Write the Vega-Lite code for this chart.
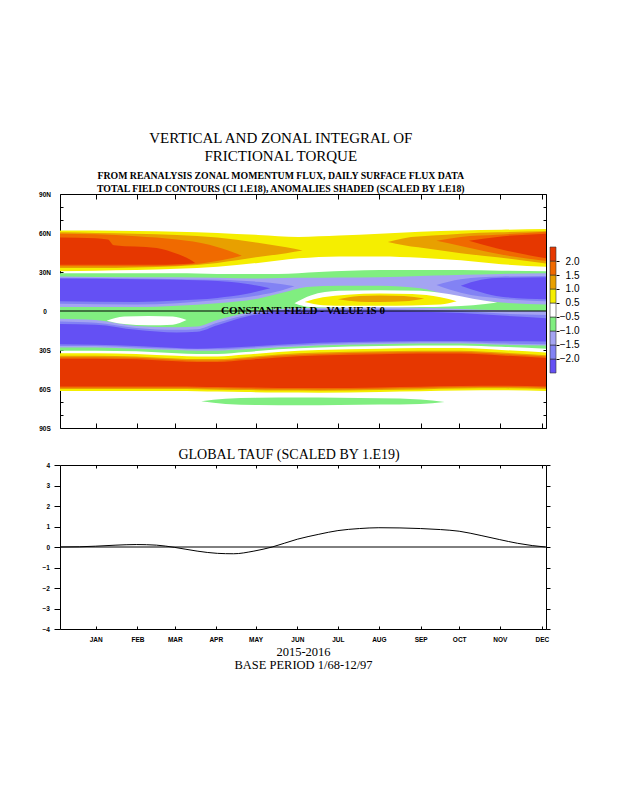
{
"$schema": "https://vega.github.io/schema/vega-lite/v6.json",
"background": "white",
"padding": {"left": 38, "top": 131, "right": 5, "bottom": 5},
"datasets": {
"field": [
{"f":"A","c":"p1","z":1,"t":0.12,"hi":62,"lo":30.5},{"f":"A","c":"p1","z":1,"t":1,"hi":62,"lo":31},{"f":"A","c":"p1","z":1,"t":2,"hi":61.5,"lo":31.5},{"f":"A","c":"p1","z":1,"t":3,"hi":61,"lo":32.5},{"f":"A","c":"p1","z":1,"t":4,"hi":60,"lo":34},{"f":"A","c":"p1","z":1,"t":5,"hi":58.5,"lo":37},{"f":"A","c":"p1","z":1,"t":6,"hi":57,"lo":40.5},{"f":"A","c":"p1","z":1,"t":7,"hi":58,"lo":42},{"f":"A","c":"p1","z":1,"t":8,"hi":59.5,"lo":42},{"f":"A","c":"p1","z":1,"t":9,"hi":61,"lo":41},{"f":"A","c":"p1","z":1,"t":10,"hi":62,"lo":39},{"f":"A","c":"p1","z":1,"t":11,"hi":62.5,"lo":36},{"f":"A","c":"p1","z":1,"t":12.1,"hi":63,"lo":34},
{"f":"B","c":"p2","z":2,"t":0.12,"hi":60.5,"lo":33},{"f":"B","c":"p2","z":2,"t":1,"hi":60,"lo":33},{"f":"B","c":"p2","z":2,"t":2,"hi":59.5,"lo":33.5},{"f":"B","c":"p2","z":2,"t":3,"hi":58.5,"lo":34.5},{"f":"B","c":"p2","z":2,"t":4,"hi":56.5,"lo":37},{"f":"B","c":"p2","z":2,"t":5,"hi":52.5,"lo":41.5},{"f":"B","c":"p2","z":2,"t":5.7,"hi":49,"lo":44.5},{"f":"B","c":"p2","z":2,"t":6.1,"hi":46.5,"lo":46.5},
{"f":"C","c":"p3","z":3,"t":0.12,"hi":59.5,"lo":34.5},{"f":"C","c":"p3","z":3,"t":1,"hi":59,"lo":34.5},{"f":"C","c":"p3","z":3,"t":2,"hi":57.5,"lo":34.5},{"f":"C","c":"p3","z":3,"t":3,"hi":55,"lo":35},{"f":"C","c":"p3","z":3,"t":3.8,"hi":51,"lo":37.5},{"f":"C","c":"p3","z":3,"t":4.4,"hi":45,"lo":41},{"f":"C","c":"p3","z":3,"t":4.6,"hi":42.5,"lo":42.5},
{"f":"D","c":"p4","z":4,"t":0.12,"hi":56.5,"lo":35.5},{"f":"D","c":"p4","z":4,"t":1,"hi":56,"lo":35.5},{"f":"D","c":"p4","z":4,"t":1.3,"hi":55,"lo":35.5},{"f":"D","c":"p4","z":4,"t":1.45,"hi":50.5,"lo":35.5},{"f":"D","c":"p4","z":4,"t":2.5,"hi":48.5,"lo":35.5},{"f":"D","c":"p4","z":4,"t":3,"hi":44,"lo":36},{"f":"D","c":"p4","z":4,"t":3.3,"hi":40,"lo":36.3},{"f":"D","c":"p4","z":4,"t":3.45,"hi":37,"lo":37},
{"f":"E","c":"p2","z":2,"t":8.2,"hi":53,"lo":53},{"f":"E","c":"p2","z":2,"t":8.6,"hi":56,"lo":50.5},{"f":"E","c":"p2","z":2,"t":9.3,"hi":58,"lo":47.5},{"f":"E","c":"p2","z":2,"t":10,"hi":59.5,"lo":44.5},{"f":"E","c":"p2","z":2,"t":10.9,"hi":60.5,"lo":41.3},{"f":"E","c":"p2","z":2,"t":12.1,"hi":61.3,"lo":36.5},
{"f":"F","c":"p3","z":3,"t":9.4,"hi":54,"lo":54},{"f":"F","c":"p3","z":3,"t":10,"hi":57,"lo":50},{"f":"F","c":"p3","z":3,"t":10.9,"hi":58.7,"lo":44},{"f":"F","c":"p3","z":3,"t":12.1,"hi":61,"lo":38.5},
{"f":"G","c":"p4","z":4,"t":10.2,"hi":54,"lo":54},{"f":"G","c":"p4","z":4,"t":10.9,"hi":57,"lo":48},{"f":"G","c":"p4","z":4,"t":12.1,"hi":59.5,"lo":40.5},
{"f":"H","c":"n1","z":1,"t":0.12,"hi":29,"lo":-30.5},{"f":"H","c":"n1","z":1,"t":1,"hi":29,"lo":-30.5},{"f":"H","c":"n1","z":1,"t":2,"hi":29,"lo":-31},{"f":"H","c":"n1","z":1,"t":3,"hi":29,"lo":-32.5},{"f":"H","c":"n1","z":1,"t":3.5,"hi":28.8,"lo":-33},{"f":"H","c":"n1","z":1,"t":4,"hi":28.5,"lo":-33},{"f":"H","c":"n1","z":1,"t":4.7,"hi":28.5,"lo":-31.5},{"f":"H","c":"n1","z":1,"t":5.5,"hi":28.5,"lo":-29.5},{"f":"H","c":"n1","z":1,"t":6.5,"hi":30,"lo":-28},{"f":"H","c":"n1","z":1,"t":8,"hi":31.5,"lo":-27},{"f":"H","c":"n1","z":1,"t":9,"hi":31.5,"lo":-26.5},{"f":"H","c":"n1","z":1,"t":10,"hi":31.5,"lo":-26.5},{"f":"H","c":"n1","z":1,"t":11,"hi":31,"lo":-27.5},{"f":"H","c":"n1","z":1,"t":12.1,"hi":30.5,"lo":-29},
{"f":"I","c":"n2","z":2,"t":0.12,"hi":26.5,"lo":3},{"f":"I","c":"n2","z":2,"t":2,"hi":26,"lo":3},{"f":"I","c":"n2","z":2,"t":3,"hi":26,"lo":4},{"f":"I","c":"n2","z":2,"t":4,"hi":25.5,"lo":6},{"f":"I","c":"n2","z":2,"t":5,"hi":25,"lo":9.5},{"f":"I","c":"n2","z":2,"t":5.6,"hi":25.3,"lo":14},{"f":"I","c":"n2","z":2,"t":6.2,"hi":25.5,"lo":18.5},{"f":"I","c":"n2","z":2,"t":7,"hi":25.8,"lo":19.5},{"f":"I","c":"n2","z":2,"t":8,"hi":26,"lo":19.5},{"f":"I","c":"n2","z":2,"t":9,"hi":27,"lo":17.5},{"f":"I","c":"n2","z":2,"t":9.7,"hi":27.5,"lo":12},{"f":"I","c":"n2","z":2,"t":10.5,"hi":28,"lo":8},{"f":"I","c":"n2","z":2,"t":11,"hi":28.5,"lo":6.5},{"f":"I","c":"n2","z":2,"t":12.1,"hi":29,"lo":5},
{"f":"J","c":"n3","z":3,"t":0.12,"hi":25.5,"lo":5.5},{"f":"J","c":"n3","z":3,"t":2,"hi":25,"lo":5},{"f":"J","c":"n3","z":3,"t":3,"hi":24.5,"lo":6},{"f":"J","c":"n3","z":3,"t":4,"hi":24,"lo":8.5},{"f":"J","c":"n3","z":3,"t":5,"hi":22.5,"lo":12},{"f":"J","c":"n3","z":3,"t":5.6,"hi":20.5,"lo":16},{"f":"J","c":"n3","z":3,"t":5.9,"hi":19,"lo":19},
{"f":"K","c":"n4","z":4,"t":0.12,"hi":25,"lo":7.5},{"f":"K","c":"n4","z":4,"t":2,"hi":24.5,"lo":7},{"f":"K","c":"n4","z":4,"t":3,"hi":24,"lo":8},{"f":"K","c":"n4","z":4,"t":4,"hi":23,"lo":10},{"f":"K","c":"n4","z":4,"t":4.7,"hi":21,"lo":13},{"f":"K","c":"n4","z":4,"t":5.3,"hi":17.5,"lo":17.5},
{"f":"L","c":"n3","z":3,"t":9.4,"hi":20,"lo":20},{"f":"L","c":"n3","z":3,"t":10,"hi":24.5,"lo":14},{"f":"L","c":"n3","z":3,"t":11,"hi":26.5,"lo":9.5},{"f":"L","c":"n3","z":3,"t":12.1,"hi":27,"lo":7.5},
{"f":"M","c":"n4","z":4,"t":10,"hi":19.5,"lo":19.5},{"f":"M","c":"n4","z":4,"t":10.5,"hi":24,"lo":14.5},{"f":"M","c":"n4","z":4,"t":11,"hi":25.5,"lo":11},{"f":"M","c":"n4","z":4,"t":12.1,"hi":26,"lo":9},
{"f":"N","c":"n2","z":2,"t":0.12,"hi":-6,"lo":-28},{"f":"N","c":"n2","z":2,"t":1,"hi":-7,"lo":-28},{"f":"N","c":"n2","z":2,"t":2,"hi":-11.5,"lo":-29},{"f":"N","c":"n2","z":2,"t":3,"hi":-12.5,"lo":-30},{"f":"N","c":"n2","z":2,"t":3.5,"hi":-12,"lo":-30.5},{"f":"N","c":"n2","z":2,"t":4,"hi":-7,"lo":-30.5},{"f":"N","c":"n2","z":2,"t":4.7,"hi":-1.5,"lo":-29.5},{"f":"N","c":"n2","z":2,"t":5.5,"hi":1.5,"lo":-28},{"f":"N","c":"n2","z":2,"t":6.5,"hi":2.5,"lo":-26.5},{"f":"N","c":"n2","z":2,"t":8,"hi":3,"lo":-25.5},{"f":"N","c":"n2","z":2,"t":9,"hi":2.5,"lo":-25},{"f":"N","c":"n2","z":2,"t":10,"hi":1.5,"lo":-25},{"f":"N","c":"n2","z":2,"t":11,"hi":0.5,"lo":-26},{"f":"N","c":"n2","z":2,"t":12.1,"hi":0,"lo":-26.5},
{"f":"O","c":"n3","z":3,"t":0.12,"hi":-8,"lo":-27},{"f":"O","c":"n3","z":3,"t":1,"hi":-9,"lo":-27},{"f":"O","c":"n3","z":3,"t":2,"hi":-13,"lo":-28},{"f":"O","c":"n3","z":3,"t":3,"hi":-14.5,"lo":-29},{"f":"O","c":"n3","z":3,"t":3.5,"hi":-14,"lo":-29.5},{"f":"O","c":"n3","z":3,"t":4,"hi":-9,"lo":-29.5},{"f":"O","c":"n3","z":3,"t":4.7,"hi":-3,"lo":-28.5},{"f":"O","c":"n3","z":3,"t":5.5,"hi":0.5,"lo":-27},{"f":"O","c":"n3","z":3,"t":6.5,"hi":1.5,"lo":-25.5},{"f":"O","c":"n3","z":3,"t":8,"hi":1.5,"lo":-24.5},{"f":"O","c":"n3","z":3,"t":9,"hi":1,"lo":-24},{"f":"O","c":"n3","z":3,"t":10,"hi":0,"lo":-24},{"f":"O","c":"n3","z":3,"t":11,"hi":-2,"lo":-25},{"f":"O","c":"n3","z":3,"t":12.1,"hi":-3,"lo":-25.5},
{"f":"P","c":"n4","z":4,"t":0.12,"hi":-10,"lo":-25.5},{"f":"P","c":"n4","z":4,"t":1,"hi":-10.5,"lo":-26},{"f":"P","c":"n4","z":4,"t":2,"hi":-14.5,"lo":-27},{"f":"P","c":"n4","z":4,"t":3,"hi":-16.5,"lo":-28.5},{"f":"P","c":"n4","z":4,"t":3.5,"hi":-16,"lo":-29},{"f":"P","c":"n4","z":4,"t":4,"hi":-11,"lo":-28.5},{"f":"P","c":"n4","z":4,"t":4.7,"hi":-4.5,"lo":-27.5},{"f":"P","c":"n4","z":4,"t":5.5,"hi":-0.5,"lo":-26},{"f":"P","c":"n4","z":4,"t":6.5,"hi":0,"lo":-24.5},{"f":"P","c":"n4","z":4,"t":8,"hi":0,"lo":-23.5},{"f":"P","c":"n4","z":4,"t":9,"hi":-0.5,"lo":-23},{"f":"P","c":"n4","z":4,"t":10,"hi":-1.5,"lo":-23},{"f":"P","c":"n4","z":4,"t":11,"hi":-3.5,"lo":-23.3},{"f":"P","c":"n4","z":4,"t":12.1,"hi":-5.5,"lo":-23.5},
{"f":"Q","c":"w","z":5,"t":5.9,"hi":6,"lo":6},{"f":"Q","c":"w","z":5,"t":6.3,"hi":12,"lo":3},{"f":"Q","c":"w","z":5,"t":7,"hi":15.5,"lo":2.7},{"f":"Q","c":"w","z":5,"t":8,"hi":16,"lo":2.8},{"f":"Q","c":"w","z":5,"t":9,"hi":15.5,"lo":3},{"f":"Q","c":"w","z":5,"t":9.7,"hi":13,"lo":3.5},{"f":"Q","c":"w","z":5,"t":10.3,"hi":9.5,"lo":4.5},{"f":"Q","c":"w","z":5,"t":10.9,"hi":6.5,"lo":6.5},
{"f":"R","c":"w","z":5,"t":1.27,"hi":-7.5,"lo":-7.5},{"f":"R","c":"w","z":5,"t":1.7,"hi":-4.2,"lo":-10},{"f":"R","c":"w","z":5,"t":2.3,"hi":-3.8,"lo":-11},{"f":"R","c":"w","z":5,"t":2.9,"hi":-4.2,"lo":-10.5},{"f":"R","c":"w","z":5,"t":3.24,"hi":-7,"lo":-7},
{"f":"S","c":"p1","z":6,"t":6.15,"hi":7,"lo":7},{"f":"S","c":"p1","z":6,"t":6.6,"hi":10.5,"lo":4.5},{"f":"S","c":"p1","z":6,"t":7.2,"hi":12.5,"lo":4},{"f":"S","c":"p1","z":6,"t":8,"hi":13.5,"lo":4},{"f":"S","c":"p1","z":6,"t":8.8,"hi":13,"lo":4.3},{"f":"S","c":"p1","z":6,"t":9.5,"hi":10.5,"lo":5},{"f":"S","c":"p1","z":6,"t":9.9,"hi":7.5,"lo":7.5},
{"f":"T","c":"p2","z":7,"t":6.97,"hi":9,"lo":9},{"f":"T","c":"p2","z":7,"t":7.5,"hi":11.5,"lo":7.2},{"f":"T","c":"p2","z":7,"t":8,"hi":12,"lo":7},{"f":"T","c":"p2","z":7,"t":8.6,"hi":11.5,"lo":7.5},{"f":"T","c":"p2","z":7,"t":9.1,"hi":9.7,"lo":9.7},
{"f":"U","c":"p1","z":1,"t":0.12,"hi":-32.5,"lo":-61.5},{"f":"U","c":"p1","z":1,"t":1,"hi":-32.5,"lo":-61.5},{"f":"U","c":"p1","z":1,"t":2,"hi":-33,"lo":-61.5},{"f":"U","c":"p1","z":1,"t":3,"hi":-34.5,"lo":-61.5},{"f":"U","c":"p1","z":1,"t":3.5,"hi":-35,"lo":-61.7},{"f":"U","c":"p1","z":1,"t":4,"hi":-35,"lo":-62},{"f":"U","c":"p1","z":1,"t":4.7,"hi":-33.5,"lo":-62.3},{"f":"U","c":"p1","z":1,"t":5.5,"hi":-31.5,"lo":-62.7},{"f":"U","c":"p1","z":1,"t":6.5,"hi":-30,"lo":-62.8},{"f":"U","c":"p1","z":1,"t":8,"hi":-29,"lo":-62.3},{"f":"U","c":"p1","z":1,"t":9,"hi":-28.5,"lo":-61.8},{"f":"U","c":"p1","z":1,"t":10,"hi":-28.5,"lo":-61.2},{"f":"U","c":"p1","z":1,"t":11,"hi":-30,"lo":-61},{"f":"U","c":"p1","z":1,"t":12.1,"hi":-32,"lo":-61.5},
{"f":"V","c":"p2","z":2,"t":0.12,"hi":-34.5,"lo":-60},{"f":"V","c":"p2","z":2,"t":1,"hi":-34.5,"lo":-60},{"f":"V","c":"p2","z":2,"t":2,"hi":-35,"lo":-60},{"f":"V","c":"p2","z":2,"t":3,"hi":-36.5,"lo":-60},{"f":"V","c":"p2","z":2,"t":3.5,"hi":-37,"lo":-60.2},{"f":"V","c":"p2","z":2,"t":4,"hi":-37,"lo":-60.5},{"f":"V","c":"p2","z":2,"t":4.7,"hi":-35.5,"lo":-60.8},{"f":"V","c":"p2","z":2,"t":5.5,"hi":-33.5,"lo":-61.2},{"f":"V","c":"p2","z":2,"t":6.5,"hi":-32,"lo":-61.3},{"f":"V","c":"p2","z":2,"t":8,"hi":-31,"lo":-60.8},{"f":"V","c":"p2","z":2,"t":9,"hi":-30.5,"lo":-60.3},{"f":"V","c":"p2","z":2,"t":10,"hi":-30.5,"lo":-59.7},{"f":"V","c":"p2","z":2,"t":11,"hi":-32,"lo":-59.5},{"f":"V","c":"p2","z":2,"t":12.1,"hi":-34,"lo":-60},
{"f":"W","c":"p3","z":3,"t":0.12,"hi":-35.5,"lo":-59},{"f":"W","c":"p3","z":3,"t":1,"hi":-35.5,"lo":-59},{"f":"W","c":"p3","z":3,"t":2,"hi":-36,"lo":-59},{"f":"W","c":"p3","z":3,"t":3,"hi":-37.5,"lo":-59},{"f":"W","c":"p3","z":3,"t":3.5,"hi":-38,"lo":-59.2},{"f":"W","c":"p3","z":3,"t":4,"hi":-38,"lo":-59.5},{"f":"W","c":"p3","z":3,"t":4.7,"hi":-36.5,"lo":-59.8},{"f":"W","c":"p3","z":3,"t":5.5,"hi":-34.5,"lo":-60.2},{"f":"W","c":"p3","z":3,"t":6.5,"hi":-33,"lo":-60.3},{"f":"W","c":"p3","z":3,"t":8,"hi":-32,"lo":-59.8},{"f":"W","c":"p3","z":3,"t":9,"hi":-31.5,"lo":-59.3},{"f":"W","c":"p3","z":3,"t":10,"hi":-31.5,"lo":-58.7},{"f":"W","c":"p3","z":3,"t":11,"hi":-33,"lo":-58.5},{"f":"W","c":"p3","z":3,"t":12.1,"hi":-35,"lo":-59},
{"f":"X","c":"p4","z":4,"t":0.12,"hi":-36.7,"lo":-58},{"f":"X","c":"p4","z":4,"t":1,"hi":-36.7,"lo":-58},{"f":"X","c":"p4","z":4,"t":2,"hi":-37.2,"lo":-58},{"f":"X","c":"p4","z":4,"t":3,"hi":-38.7,"lo":-58},{"f":"X","c":"p4","z":4,"t":3.5,"hi":-39.2,"lo":-58.2},{"f":"X","c":"p4","z":4,"t":4,"hi":-39.2,"lo":-58.5},{"f":"X","c":"p4","z":4,"t":4.7,"hi":-37.7,"lo":-58.8},{"f":"X","c":"p4","z":4,"t":5.5,"hi":-35.7,"lo":-59.2},{"f":"X","c":"p4","z":4,"t":6.5,"hi":-34.2,"lo":-59.3},{"f":"X","c":"p4","z":4,"t":8,"hi":-33.2,"lo":-58.8},{"f":"X","c":"p4","z":4,"t":9,"hi":-32.7,"lo":-58.3},{"f":"X","c":"p4","z":4,"t":10,"hi":-32.7,"lo":-57.7},{"f":"X","c":"p4","z":4,"t":11,"hi":-34.2,"lo":-57.5},{"f":"X","c":"p4","z":4,"t":12.1,"hi":-36.2,"lo":-58},
{"f":"Y","c":"n1","z":1,"t":3.6,"hi":-69.5,"lo":-69.5},{"f":"Y","c":"n1","z":1,"t":4.2,"hi":-67.5,"lo":-71.5},{"f":"Y","c":"n1","z":1,"t":5,"hi":-66.8,"lo":-72.3},{"f":"Y","c":"n1","z":1,"t":6,"hi":-66.6,"lo":-72.5},{"f":"Y","c":"n1","z":1,"t":7,"hi":-66.8,"lo":-72.3},{"f":"Y","c":"n1","z":1,"t":8,"hi":-67.2,"lo":-72},{"f":"Y","c":"n1","z":1,"t":9,"hi":-68,"lo":-71.5},{"f":"Y","c":"n1","z":1,"t":9.6,"hi":-70,"lo":-70}
],
"cbar": [
{"c":"n4","k0":0,"k1":1},{"c":"n3","k0":1,"k1":2},{"c":"n2","k0":2,"k1":3},{"c":"n1","k0":3,"k1":4},{"c":"w","k0":4,"k1":5},{"c":"p1","k0":5,"k1":6},{"c":"p2","k0":6,"k1":7},{"c":"p3","k0":7,"k1":8},{"c":"p4","k0":8,"k1":9}
],
"tauf": [
{"t":0.12,"v":0},{"t":0.6,"v":0.01},{"t":1,"v":0.04},{"t":1.5,"v":0.09},{"t":2,"v":0.12},{"t":2.5,"v":0.09},{"t":2.95,"v":-0.02},{"t":3.5,"v":-0.2},{"t":4,"v":-0.31},{"t":4.4,"v":-0.33},{"t":4.9,"v":-0.2},{"t":5.35,"v":0},{"t":5.97,"v":0.38},{"t":6.5,"v":0.62},{"t":6.97,"v":0.8},{"t":7.5,"v":0.9},{"t":7.98,"v":0.94},{"t":8.5,"v":0.93},{"t":9.01,"v":0.9},{"t":9.5,"v":0.85},{"t":9.96,"v":0.77},{"t":10.5,"v":0.56},{"t":10.96,"v":0.36},{"t":11.4,"v":0.18},{"t":11.76,"v":0.07},{"t":12.09,"v":0}
]
},
"title": {
"text": ["VERTICAL AND ZONAL INTEGRAL OF", "FRICTIONAL TORQUE"],
"subtitle": ["FROM REANALYSIS ZONAL MOMENTUM FLUX, DAILY SURFACE FLUX DATA", "TOTAL FIELD CONTOURS (CI 1.E18),  ANOMALIES SHADED (SCALED BY 1.E18)"],
"font": "Liberation Serif", "fontSize": 15, "fontWeight": "normal", "lineHeight": 18, "color": "black",
"subtitleFont": "Liberation Serif", "subtitleFontSize": 9.8, "subtitleFontWeight": "bold", "subtitleColor": "black", "subtitleLineHeight": 13, "subtitlePadding": 7,
"anchor": "middle", "dx": -28, "offset": -3
},
"columns": 2,
"spacing": {"row": 37, "column": 4},
"bounds": "flush",
"align": "each",
"concat": [
{
"width": 486, "height": 234,
"layer": [
{"data": {"name": "field"}, "transform": [{"filter": "datum.z == 1"}], "mark": {"type": "area", "interpolate": "monotone", "opacity": 1},
 "encoding": {
  "x": {"field": "t", "type": "quantitative", "scale": {"domain": [0.12, 12.1], "nice": false, "zero": false}, "axis": {"orient": "bottom", "values": [1,2.03,2.95,3.96,4.94,5.97,6.97,7.98,9.01,9.96,10.96,12], "labels": false, "tickSize": -5, "title": null}},
  "y": {"field": "hi", "type": "quantitative", "stack": null, "scale": {"domain": [-90, 90], "nice": false, "zero": false}, "axis": {"orient": "left", "values": [-90,-80,-70,-60,-50,-40,-30,-20,-10,0,10,20,30,40,50,60,70,80,90], "tickSize": -3, "labelAlign": "center", "labelPadding": 18.5, "labelExpr": "datum.value == 0 ? '0' : (datum.value % 30 != 0 ? '' : abs(datum.value) + (datum.value > 0 ? 'N' : 'S'))", "title": null}},
  "y2": {"field": "lo"},
  "color": {"field": "c", "type": "nominal", "scale": {"domain": ["p1","p2","p3","p4","n1","n2","n3","n4","w"], "range": ["#f5ee00","#e8a000","#f06a00","#e63700","#80ee80","#a4a4f2","#8282f4","#6450f4","#ffffff"]}, "legend": null},
  "detail": {"field": "f"}
 }},
{"data": {"name": "field"}, "transform": [{"filter": "datum.z == 2"}], "mark": {"type": "area", "interpolate": "monotone", "opacity": 1},
 "encoding": {
  "x": {"field": "t", "type": "quantitative", "scale": {"domain": [0.12, 12.1], "nice": false, "zero": false}, "axis": {"orient": "top", "values": [1,2.03,2.95,3.96,4.94,5.97,6.97,7.98,9.01,9.96,10.96,12], "labels": false, "tickSize": -5, "title": null}},
  "y": {"field": "hi", "type": "quantitative", "stack": null, "scale": {"domain": [-90, 90], "nice": false, "zero": false}, "axis": {"orient": "right", "values": [-90,-80,-70,-60,-50,-40,-30,-20,-10,0,10,20,30,40,50,60,70,80,90], "labels": false, "tickSize": -3, "title": null}},
  "y2": {"field": "lo"},
  "color": {"field": "c", "type": "nominal", "scale": {"domain": ["p1","p2","p3","p4","n1","n2","n3","n4","w"], "range": ["#f5ee00","#e8a000","#f06a00","#e63700","#80ee80","#a4a4f2","#8282f4","#6450f4","#ffffff"]}, "legend": null},
  "detail": {"field": "f"}
 }},
{"data": {"name": "field"}, "transform": [{"filter": "datum.z == 3"}], "mark": {"type": "area", "interpolate": "monotone", "opacity": 1},
 "encoding": {
  "x": {"field": "t", "type": "quantitative", "scale": {"domain": [0.12, 12.1], "nice": false, "zero": false}, "axis": null},
  "y": {"field": "hi", "type": "quantitative", "stack": null, "scale": {"domain": [-90, 90], "nice": false, "zero": false}, "axis": null},
  "y2": {"field": "lo"},
  "color": {"field": "c", "type": "nominal", "scale": {"domain": ["p1","p2","p3","p4","n1","n2","n3","n4","w"], "range": ["#f5ee00","#e8a000","#f06a00","#e63700","#80ee80","#a4a4f2","#8282f4","#6450f4","#ffffff"]}, "legend": null},
  "detail": {"field": "f"}
 }},
{"data": {"name": "field"}, "transform": [{"filter": "datum.z == 4"}], "mark": {"type": "area", "interpolate": "monotone", "opacity": 1},
 "encoding": {
  "x": {"field": "t", "type": "quantitative", "scale": {"domain": [0.12, 12.1], "nice": false, "zero": false}, "axis": null},
  "y": {"field": "hi", "type": "quantitative", "stack": null, "scale": {"domain": [-90, 90], "nice": false, "zero": false}, "axis": null},
  "y2": {"field": "lo"},
  "color": {"field": "c", "type": "nominal", "scale": {"domain": ["p1","p2","p3","p4","n1","n2","n3","n4","w"], "range": ["#f5ee00","#e8a000","#f06a00","#e63700","#80ee80","#a4a4f2","#8282f4","#6450f4","#ffffff"]}, "legend": null},
  "detail": {"field": "f"}
 }},
{"data": {"name": "field"}, "transform": [{"filter": "datum.z == 5"}], "mark": {"type": "area", "interpolate": "monotone", "opacity": 1},
 "encoding": {
  "x": {"field": "t", "type": "quantitative", "scale": {"domain": [0.12, 12.1], "nice": false, "zero": false}, "axis": null},
  "y": {"field": "hi", "type": "quantitative", "stack": null, "scale": {"domain": [-90, 90], "nice": false, "zero": false}, "axis": null},
  "y2": {"field": "lo"},
  "color": {"field": "c", "type": "nominal", "scale": {"domain": ["p1","p2","p3","p4","n1","n2","n3","n4","w"], "range": ["#f5ee00","#e8a000","#f06a00","#e63700","#80ee80","#a4a4f2","#8282f4","#6450f4","#ffffff"]}, "legend": null},
  "detail": {"field": "f"}
 }},
{"data": {"name": "field"}, "transform": [{"filter": "datum.z == 6"}], "mark": {"type": "area", "interpolate": "monotone", "opacity": 1},
 "encoding": {
  "x": {"field": "t", "type": "quantitative", "scale": {"domain": [0.12, 12.1], "nice": false, "zero": false}, "axis": null},
  "y": {"field": "hi", "type": "quantitative", "stack": null, "scale": {"domain": [-90, 90], "nice": false, "zero": false}, "axis": null},
  "y2": {"field": "lo"},
  "color": {"field": "c", "type": "nominal", "scale": {"domain": ["p1","p2","p3","p4","n1","n2","n3","n4","w"], "range": ["#f5ee00","#e8a000","#f06a00","#e63700","#80ee80","#a4a4f2","#8282f4","#6450f4","#ffffff"]}, "legend": null},
  "detail": {"field": "f"}
 }},
{"data": {"name": "field"}, "transform": [{"filter": "datum.z == 7"}], "mark": {"type": "area", "interpolate": "monotone", "opacity": 1},
 "encoding": {
  "x": {"field": "t", "type": "quantitative", "scale": {"domain": [0.12, 12.1], "nice": false, "zero": false}, "axis": null},
  "y": {"field": "hi", "type": "quantitative", "stack": null, "scale": {"domain": [-90, 90], "nice": false, "zero": false}, "axis": null},
  "y2": {"field": "lo"},
  "color": {"field": "c", "type": "nominal", "scale": {"domain": ["p1","p2","p3","p4","n1","n2","n3","n4","w"], "range": ["#f5ee00","#e8a000","#f06a00","#e63700","#80ee80","#a4a4f2","#8282f4","#6450f4","#ffffff"]}, "legend": null},
  "detail": {"field": "f"}
 }},
{"data": {"values": [{}]}, "mark": {"type": "rule", "color": "black", "strokeWidth": 1},
 "encoding": {"y": {"datum": 0, "type": "quantitative", "scale": {"domain": [-90, 90], "nice": false, "zero": false}, "axis": null}}},
{"data": {"values": [{}]}, "mark": {"type": "text", "font": "Liberation Serif", "fontWeight": "bold", "fontSize": 11, "color": "black", "align": "center", "baseline": "middle"},
 "encoding": {
  "x": {"datum": 6.11, "type": "quantitative", "scale": {"domain": [0.12, 12.1], "nice": false, "zero": false}, "axis": null},
  "y": {"datum": 0, "type": "quantitative", "scale": {"domain": [-90, 90], "nice": false, "zero": false}, "axis": null},
  "text": {"value": "CONSTANT FIELD - VALUE IS 0"}}}
],
"resolve": {"axis": {"x": "independent", "y": "independent"}}
},
{
"width": 6, "height": 234,
"data": {"name": "cbar"},
"mark": {"type": "rect", "stroke": "#333333", "strokeWidth": 0.6},
"encoding": {
 "y": {"field": "k0", "type": "quantitative", "scale": {"domain": [-3.929, 12.786], "nice": false, "zero": false}, "axis": {"orient": "right", "values": [1,2,3,4,5,6,7,8], "labelExpr": "['','−2.0','−1.5','−1.0','−0.5','0.5','1.0','1.5','2.0'][datum.value]", "tickSize": 3, "labelPadding": 20, "labelAlign": "right", "labelFontSize": 10, "labelFontWeight": "normal", "domain": false, "title": null}},
 "y2": {"field": "k1"},
 "color": {"field": "c", "type": "nominal", "scale": {"domain": ["p1","p2","p3","p4","n1","n2","n3","n4","w"], "range": ["#f5ee00","#e8a000","#f06a00","#e63700","#80ee80","#a4a4f2","#8282f4","#6450f4","#ffffff"]}, "legend": null}
}
},
{
"width": 486, "height": 164,
"title": {"text": "GLOBAL TAUF (SCALED BY 1.E19)", "font": "Liberation Serif", "fontSize": 14, "fontWeight": "normal", "color": "black", "anchor": "middle", "dx": -14, "offset": 0},
"layer": [
{"data": {"values": [{}]}, "mark": {"type": "rule", "color": "black", "strokeWidth": 1},
 "encoding": {"y": {"datum": 0, "type": "quantitative", "scale": {"domain": [-4, 4], "nice": false, "zero": false}, "axis": null}}},
{"data": {"name": "tauf"}, "mark": {"type": "line", "color": "black", "strokeWidth": 1, "interpolate": "monotone"},
 "encoding": {
  "x": {"field": "t", "type": "quantitative", "scale": {"domain": [0.12, 12.1], "nice": false, "zero": false}, "axis": {"orient": "bottom", "values": [1,2.03,2.95,3.96,4.94,5.97,6.97,7.98,9.01,9.96,10.96,12], "tickSize": -3, "labelPadding": 10, "labelExpr": "['','JAN','FEB','MAR','APR','MAY','JUN','JUL','AUG','SEP','OCT','NOV','DEC'][round(datum.value)]", "title": ["2015-2016", "BASE PERIOD  1/68-12/97"], "titleFont": "Liberation Serif", "titleFontSize": 12.5, "titleFontWeight": "normal", "titleLineHeight": 13, "titlePadding": 3, "titleColor": "black"}},
  "y": {"field": "v", "type": "quantitative", "scale": {"domain": [-4, 4], "nice": false, "zero": false}, "axis": {"orient": "left", "values": [-4,-3,-2,-1,0,1,2,3,4], "tickSize": 6, "labelPadding": 4.5, "title": null}}
 }},
{"data": {"name": "tauf"}, "mark": {"type": "line", "strokeOpacity": 0},
 "encoding": {
  "x": {"field": "t", "type": "quantitative", "scale": {"domain": [0.12, 12.1], "nice": false, "zero": false}, "axis": {"orient": "top", "values": [1,2.03,2.95,3.96,4.94,5.97,6.97,7.98,9.01,9.96,10.96,12], "labels": false, "tickSize": -3, "title": null}},
  "y": {"field": "v", "type": "quantitative", "scale": {"domain": [-4, 4], "nice": false, "zero": false}, "axis": {"orient": "right", "values": [-4,-3,-2,-1,0,1,2,3,4], "labels": false, "tickSize": 4, "title": null}}
 }}
],
"resolve": {"axis": {"x": "independent", "y": "independent"}}
}
],
"config": {
"view": {"stroke": null},
"axis": {"grid": false, "domain": true, "domainColor": "black", "domainWidth": 1, "tickColor": "black", "tickWidth": 1, "labelColor": "black", "labelFont": "Liberation Sans", "labelFontSize": 6.5, "labelFontWeight": "bold", "labelOverlap": false, "labelFlush": false, "labelBound": false, "zindex": 1}
}
}
